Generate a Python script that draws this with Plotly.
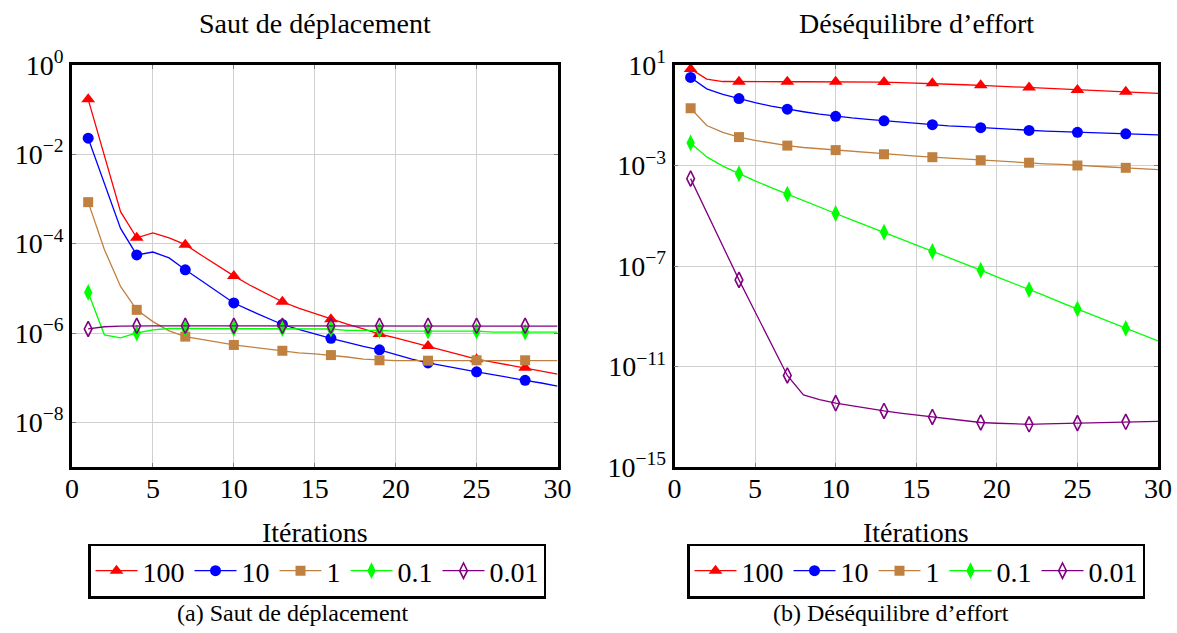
import plotly.graph_objects as go

# ---------------- data ----------------
iterations = list(range(1, 31))
labels = ["100", "10", "1", "0.1", "0.01"]

# (a) Saut de déplacement
saut_100 = [1.7e-1, 1.0e-2, 5.2e-4, 1.35e-4, 1.74e-4, 1.35e-4, 9.5e-5, 5.5e-5, 3.2e-5, 1.9e-5,
            1.17e-5, 7.6e-6, 5.0e-6, 3.6e-6, 2.7e-6, 2.04e-6, 1.58e-6, 1.23e-6, 9.5e-7, 7.8e-7,
            6.3e-7, 5.1e-7, 4.1e-7, 3.2e-7, 2.6e-7, 2.24e-7, 1.9e-7, 1.66e-7, 1.41e-7, 1.2e-7]
saut_10 = [2.3e-2, 2.3e-3, 2.2e-4, 5.6e-5, 6.5e-5, 4.8e-5, 2.6e-5, 1.48e-5, 8.5e-6, 4.7e-6,
           3.2e-6, 2.2e-6, 1.55e-6, 1.2e-6, 9.5e-7, 7.6e-7, 6.2e-7, 5.0e-7, 4.2e-7, 3.3e-7,
           2.6e-7, 2.14e-7, 1.82e-7, 1.55e-7, 1.35e-7, 1.17e-7, 1.0e-7, 8.7e-8, 7.6e-8, 6.5e-8]
saut_1 = [8.5e-4, 7.4e-5, 1.1e-5, 3.3e-6, 1.8e-6, 1.12e-6, 8.3e-7, 7.1e-7, 6.2e-7, 5.4e-7,
          4.9e-7, 4.4e-7, 4.0e-7, 3.6e-7, 3.4e-7, 3.2e-7, 2.9e-7, 2.6e-7, 2.45e-7, 2.4e-7,
          2.4e-7, 2.4e-7, 2.4e-7, 2.4e-7, 2.45e-7, 2.45e-7, 2.45e-7, 2.45e-7, 2.4e-7, 2.4e-7]
saut_01 = [8.1e-6, 9.1e-7, 7.8e-7, 1.0e-6, 1.17e-6, 1.26e-6, 1.26e-6, 1.26e-6, 1.26e-6, 1.26e-6,
           1.26e-6, 1.26e-6, 1.26e-6, 1.23e-6, 1.23e-6, 1.23e-6, 1.15e-6, 1.15e-6, 1.15e-6, 1.1e-6,
           1.1e-6, 1.1e-6, 1.1e-6, 1.1e-6, 1.1e-6, 1.05e-6, 1.05e-6, 1.05e-6, 1.05e-6, 1.05e-6]
saut_001 = [1.23e-6, 1.38e-6, 1.42e-6, 1.45e-6, 1.45e-6, 1.45e-6, 1.45e-6, 1.45e-6, 1.45e-6, 1.45e-6,
            1.45e-6, 1.45e-6, 1.45e-6, 1.45e-6, 1.45e-6, 1.45e-6, 1.45e-6, 1.45e-6, 1.45e-6, 1.45e-6,
            1.45e-6, 1.45e-6, 1.45e-6, 1.45e-6, 1.45e-6, 1.45e-6, 1.45e-6, 1.45e-6, 1.42e-6, 1.42e-6]

# (b) Déséquilibre d'effort
effort_100 = [7.0, 2.75, 2.2, 2.15, 2.15, 2.15, 2.15, 2.15, 2.15, 2.15,
              2.12, 2.1, 2.1, 2.0, 1.93, 1.86, 1.76, 1.64, 1.55, 1.45,
              1.35, 1.26, 1.17, 1.10, 1.02, 0.97, 0.91, 0.87, 0.80, 0.74]
effort_10 = [3.2, 1.12, 0.68, 0.46, 0.32, 0.23, 0.174, 0.138, 0.11, 0.091,
             0.078, 0.068, 0.060, 0.052, 0.047, 0.042, 0.038, 0.035, 0.032, 0.029,
             0.027, 0.025, 0.0234, 0.0221, 0.0209, 0.020, 0.019, 0.0182, 0.0174, 0.0166]
effort_1 = [0.19, 0.039, 0.021, 0.0135, 0.010, 0.0078, 0.0062, 0.0052, 0.0046, 0.0041,
            0.0036, 0.0032, 0.0028, 0.0026, 0.00234, 0.00214, 0.00195, 0.00178, 0.00162, 0.00151,
            0.00138, 0.00129, 0.00117, 0.0011, 0.001, 0.00093, 0.00087, 0.00081, 0.00074, 0.00069]
effort_01 = [7.9e-3, 2.2e-3, 9.5e-4, 4.7e-4, 2.45e-4, 1.32e-4, 7.2e-5, 4.0e-5, 2.2e-5, 1.23e-5,
             6.9e-6, 3.9e-6, 2.2e-6, 1.23e-6, 6.8e-7, 3.8e-7, 2.14e-7, 1.2e-7, 6.8e-8, 3.7e-8,
             2.1e-8, 1.15e-8, 6.5e-9, 3.5e-9, 1.95e-9, 1.07e-9, 6.0e-10, 3.3e-10, 1.86e-10, 1.05e-10]
effort_001 = [3.0e-4, 1.35e-5, 6.2e-7, 2.8e-8, 1.5e-9, 8.1e-11, 4.4e-12, 7.4e-13, 4.8e-13, 3.5e-13,
              2.7e-13, 2.1e-13, 1.7e-13, 1.4e-13, 1.17e-13, 9.8e-14, 8.1e-14, 6.9e-14, 5.9e-14, 5.5e-14,
              5.2e-14, 5.0e-14, 5.2e-14, 5.4e-14, 5.6e-14, 5.9e-14, 6.2e-14, 6.3e-14, 6.5e-14, 6.5e-14]

x_ticks = [0, 5, 10, 15, 20, 25, 30]
saut_yticks = [1e-8, 1e-6, 1e-4, 1e-2, 1e0]
saut_yticktext = ["10<sup>\u22128</sup>", "10<sup>\u22126</sup>", "10<sup>\u22124</sup>",
                  "10<sup>\u22122</sup>", "10<sup>0</sup>"]
effort_yticks = [1e-15, 1e-11, 1e-7, 1e-3, 1e1]
effort_yticktext = ["10<sup>\u221215</sup>", "10<sup>\u221211</sup>", "10<sup>\u22127</sup>",
                    "10<sup>\u22123</sup>", "10<sup>1</sup>"]

# ---------------- style ----------------
W, H = 1177, 633
FONT = "Liberation Serif"
colors = ["#ff0000", "#0000ff", "#bf8040", "#00ff00", "#800080"]
symbols = ["triangle-up", "circle", "square", "diamond-tall", "diamond-tall-open"]
msizes = [12, 11, 10, 12, 11]

saut_series = [saut_100, saut_10, saut_1, saut_01, saut_001]
effort_series = [effort_100, effort_10, effort_1, effort_01, effort_001]

fig = go.Figure()

panels = [("x", "y", "legend", saut_series), ("x2", "y2", "legend2", effort_series)]
for xa, ya, lg, series in panels:
    for lab, ys, c, sym, ms in zip(labels, series, colors, symbols, msizes):
        is_open = sym.endswith("open")
        mk = dict(symbol=sym, color=c, size=ms,
                  line=dict(width=1.6 if is_open else 0, color=c))
        fig.add_trace(go.Scatter(x=iterations, y=ys, mode="lines",
                                 line=dict(color=c, width=1.3),
                                 xaxis=xa, yaxis=ya, showlegend=False, hoverinfo="skip"))
        fig.add_trace(go.Scatter(x=iterations[::3], y=ys[::3], mode="markers", marker=mk,
                                 xaxis=xa, yaxis=ya, showlegend=False, cliponaxis=False))
        fig.add_trace(go.Scatter(x=[None], y=[None], mode="lines+markers", name=lab,
                                 line=dict(color=c, width=1.3), marker=mk,
                                 xaxis=xa, yaxis=ya, legend=lg))

def px_x(p):
    return p / W

def px_y(p):
    return 1 - p / H

y_dom = [px_y(467), px_y(65)]
left_dom = [px_x(72), px_x(557.5)]
right_dom = [px_x(674.5), px_x(1158)]

axis_common = dict(showline=True, linecolor="black", linewidth=2.5, mirror="ticks",
                   ticks="inside", ticklen=4, tickwidth=1.2, tickcolor="#7f7f7f",
                   showgrid=True, gridcolor="#d0d0d0", gridwidth=1, zeroline=False,
                   automargin=False,
                   tickfont=dict(family=FONT, size=28, color="black"))
xaxis_extra = dict(ticklabelstandoff=-5)

legend_common = dict(orientation="h", xanchor="center", y=px_y(571), yanchor="middle",
                     bordercolor="black", borderwidth=2.5, bgcolor="white",
                     font=dict(family=FONT, size=28, color="black"), itemwidth=42,
                     tracegroupgap=0)

fig.update_layout(
    template="none",
    width=W, height=H,
    margin=dict(l=0, r=0, t=0, b=0, pad=0, autoexpand=False),
    paper_bgcolor="white", plot_bgcolor="white",
    font=dict(family=FONT, size=28, color="black"),
    xaxis=dict(domain=left_dom, range=[0, 30], tickvals=x_ticks, anchor="y",
               **axis_common, **xaxis_extra),
    yaxis=dict(domain=y_dom, type="log", range=[-9, 0], tickvals=saut_yticks,
               ticktext=saut_yticktext, anchor="x", **axis_common),
    xaxis2=dict(domain=right_dom, range=[0, 30], tickvals=x_ticks, anchor="y2",
                **axis_common, **xaxis_extra),
    yaxis2=dict(domain=y_dom, type="log", range=[-15, 1], tickvals=effort_yticks,
                ticktext=effort_yticktext, anchor="x2", **axis_common),
    legend=dict(x=px_x(317), **legend_common),
    legend2=dict(x=px_x(916), **legend_common),
    showlegend=True,
)

ann = [
    ("Saut de déplacement", 315, 24, 28),
    ("Déséquilibre d\u2019effort", 916, 24, 28),
    ("Itérations", 315, 532, 28),
    ("Itérations", 916, 532, 28),
    ("(a) Saut de déplacement", 293, 613, 24),
    ("(b) Déséquilibre d\u2019effort", 891, 613, 24),
]
for text, xp, yp, fs in ann:
    fig.add_annotation(text=text, x=px_x(xp), y=px_y(yp), xref="paper", yref="paper",
                       xanchor="center", yanchor="middle", showarrow=False,
                       font=dict(family=FONT, size=fs, color="black"))

fig.write_html("out.html", config={"displayModeBar": False},
               post_script="document.body.style.margin='0';document.body.style.overflow='hidden';")
